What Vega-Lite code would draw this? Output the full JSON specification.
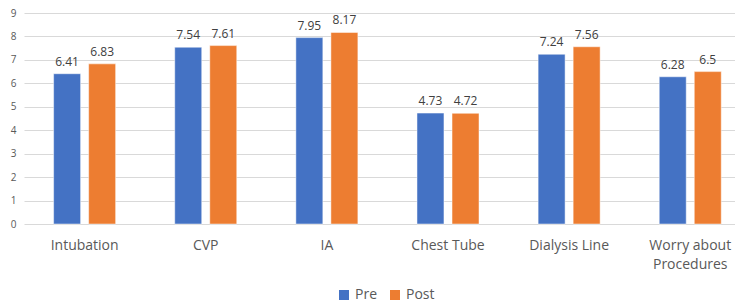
{
  "$schema": "https://vega.github.io/schema/vega-lite/v6.json",
  "width": 711,
  "height": 211,
  "padding": {"left": 10, "top": 8, "right": 0, "bottom": 2},
  "background": "white",
  "data": {
    "values": [
      {"category": "Intubation", "series": "Pre", "value": 6.41},
      {"category": "Intubation", "series": "Post", "value": 6.83},
      {"category": "CVP", "series": "Pre", "value": 7.54},
      {"category": "CVP", "series": "Post", "value": 7.61},
      {"category": "IA", "series": "Pre", "value": 7.95},
      {"category": "IA", "series": "Post", "value": 8.17},
      {"category": "Chest Tube", "series": "Pre", "value": 4.73},
      {"category": "Chest Tube", "series": "Post", "value": 4.72},
      {"category": "Dialysis Line", "series": "Pre", "value": 7.24},
      {"category": "Dialysis Line", "series": "Post", "value": 7.56},
      {"category": "Worry about Procedures", "series": "Pre", "value": 6.28},
      {"category": "Worry about Procedures", "series": "Post", "value": 6.5}
    ]
  },
  "encoding": {
    "x": {
      "field": "category",
      "type": "nominal",
      "sort": null,
      "scale": {"paddingInner": 0.488, "paddingOuter": 0.179, "align": 0.683},
      "axis": {
        "title": null,
        "labelAngle": 0,
        "domain": false,
        "ticks": false,
        "labelFont": "Open Sans",
        "labelFontSize": 14,
        "labelColor": "#595959",
        "labelPadding": 14,
        "labelExpr": "datum.label == 'Worry about Procedures' ? ['Worry about', 'Procedures'] : datum.label",
        "labelLineHeight": 19
      }
    },
    "xOffset": {
      "field": "series",
      "type": "nominal",
      "sort": ["Pre", "Post"],
      "scale": {"paddingInner": 0.23, "paddingOuter": 0}
    },
    "y": {
      "field": "value",
      "type": "quantitative",
      "scale": {"domain": [0, 9], "nice": false},
      "axis": {
        "title": null,
        "values": [0, 1, 2, 3, 4, 5, 6, 7, 8, 9],
        "domain": false,
        "ticks": false,
        "labelFont": "Open Sans",
        "labelFontSize": 10,
        "labelColor": "#595959",
        "labelPadding": 8,
        "gridColor": "#d9d9d9",
        "gridWidth": 1
      }
    }
  },
  "layer": [
    {
      "mark": {"type": "bar", "stroke": "white", "strokeWidth": 0.8, "strokeOpacity": 0.6},
      "encoding": {
        "color": {
          "field": "series",
          "type": "nominal",
          "sort": ["Pre", "Post"],
          "scale": {"domain": ["Pre", "Post"], "range": ["#4472C4", "#ED7D31"]},
          "legend": {
            "title": null,
            "orient": "none",
            "legendX": 313,
            "legendY": 275,
            "direction": "horizontal",
            "symbolType": "square",
            "symbolSize": 100,
            "symbolStrokeWidth": 0,
            "labelFont": "Open Sans",
            "labelFontSize": 14,
            "labelColor": "#595959",
            "columnPadding": 10,
            "labelOffset": 4
          }
        }
      }
    },
    {
      "mark": {"type": "text", "dy": -12, "font": "Open Sans", "fontSize": 12, "color": "#404040"},
      "encoding": {
        "text": {"field": "value", "type": "quantitative"}
      }
    }
  ],
  "config": {"view": {"stroke": null}}
}
